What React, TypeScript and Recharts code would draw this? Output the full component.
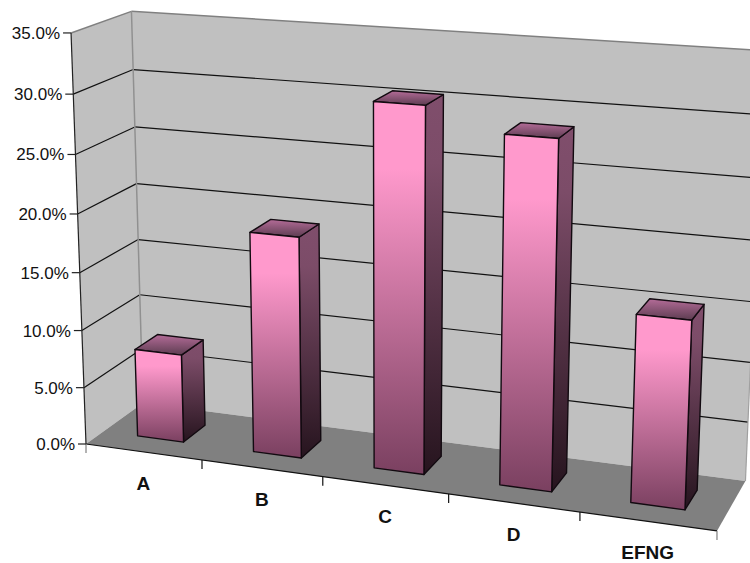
import { BarChart, Bar, XAxis, YAxis, Customized } from "recharts";

const W = 750;
const H = 563;
const AXIS_W = 40;
const AXIS_H = 40;
const PLOT_W = W - AXIS_W;
const PLOT_H = H - AXIS_H;

const categories = ["A", "B", "C", "D", "EFNG"];
const shares = [7.7, 18.9, 30.5, 28.7, 15.4];
const yTicks = [0, 5, 10, 15, 20, 25, 30, 35];
const yMax = 35;

const data = categories.map((name, i) => ({ name, share: shares[i] }));

// perspective camera fitted to the picture: u across, v up, w into the page (all 0..1)
const project = (u: number, v: number, w: number): [number, number] => {
  const d = 1 - 0.099 * u - 0.047 * v + 0.052 * w;
  return [
    (86 + 560 * u - 18.3 * v + 64.4 * w) / d,
    (444 + 34.4 * u - 412.6 * v - 20 * w) / d,
  ];
};

const pts = (list: [number, number][]) => list.map((p) => p.join(",")).join(" ");

const BAR_FRONT = 0.3;
const BAR_BACK = 0.7;

function Walls() {
  const seg = (a: [number, number], b: [number, number], color: string, width = 1.2, key?: string) => (
    <line key={key} x1={a[0]} y1={a[1]} x2={b[0]} y2={b[1]} stroke={color} strokeWidth={width} />
  );
  const ticksU = categories.map((_, i) => i / categories.length).concat(1);

  return (
    <g>
      <defs>
        <linearGradient id="front" x1="0" y1="0" x2="0" y2="1">
          <stop offset="0" stopColor="#ff99cc" />
          <stop offset="0.18" stopColor="#ff99cc" />
          <stop offset="1" stopColor="#7a4060" />
        </linearGradient>
        <linearGradient id="side" x1="0" y1="0" x2="0" y2="1">
          <stop offset="0" stopColor="#804e6c" />
          <stop offset="0.18" stopColor="#7c4c68" />
          <stop offset="1" stopColor="#26141e" />
        </linearGradient>
        <linearGradient id="top" x1="0" y1="0" x2="0" y2="1">
          <stop offset="0" stopColor="#b46c98" />
          <stop offset="1" stopColor="#5c3c50" />
        </linearGradient>
      </defs>

      <polygon points={pts([project(0, 0, 0), project(0, 0, 1), project(0, 1, 1), project(0, 1, 0)])} fill="#c0c0c0" />
      <polygon points={pts([project(0, 0, 1), project(1, 0, 1), project(1, 1, 1), project(0, 1, 1)])} fill="#c0c0c0" />
      <polygon points={pts([project(0, 0, 0), project(1, 0, 0), project(1, 0, 1), project(0, 0, 1)])} fill="#808080" />

      {yTicks
        .filter((t) => t > 0 && t < yMax)
        .map((t) => {
          const v = t / yMax;
          return (
            <g key={t}>
              {seg(project(0, v, 0), project(0, v, 1), "#111")}
              {seg(project(0, v, 1), project(1, v, 1), "#111")}
            </g>
          );
        })}

      {seg(project(0, 1, 0), project(0, 1, 1), "#808080", 1.5)}
      {seg(project(0, 1, 1), project(1, 1, 1), "#808080", 1.5)}
      {seg(project(0, 0, 1), project(0, 1, 1), "#909090", 1.5)}
      {seg(project(1, 0, 1), project(1, 1, 1), "#a0a0a0", 1.2)}
      {seg(project(0, 1, 0), project(0, 0, 0), "#222", 1.2)}
      {seg(project(0, 0, 0), project(1, 0, 0), "#111", 1.2)}

      {ticksU.map((u) => {
        const [x, y] = project(u, 0, 0);
        const edge = u === 0 || u === 1;
        return seg([x, y], [x, y + 9], edge ? "#808080" : "#111", 1.2, "t" + u);
      })}
    </g>
  );
}

function Box3D(props: any) {
  const { x, y, width, height } = props;
  const u0 = (x - AXIS_W) / PLOT_W;
  const u1 = (x + width - AXIS_W) / PLOT_W;
  const v = 1 - y / PLOT_H;
  const v0 = 1 - (y + height) / PLOT_H;
  const f = BAR_FRONT;
  const b = BAR_BACK;
  return (
    <g stroke="#120a10" strokeWidth={1.4} strokeLinejoin="round">
      <polygon fill="url(#side)" points={pts([project(u1, v, f), project(u1, v, b), project(u1, v0, b), project(u1, v0, f)])} />
      <polygon fill="url(#top)" points={pts([project(u0, v, f), project(u0, v, b), project(u1, v, b), project(u1, v, f)])} />
      <polygon fill="url(#front)" points={pts([project(u0, v, f), project(u1, v, f), project(u1, v0, f), project(u0, v0, f)])} />
    </g>
  );
}

function YTick(props: any) {
  const { y, payload } = props;
  const [px, py] = project(0, 1 - y / PLOT_H, 0);
  return (
    <g>
      <line x1={px - 8} y1={py} x2={px} y2={py} stroke="#222" strokeWidth={1.2} />
      <text x={px - 11} y={py + 6} textAnchor="end" fontFamily="'Liberation Sans', Arial, sans-serif" fontSize={17} fill="#111">
        {payload.value.toFixed(1)}%
      </text>
    </g>
  );
}

function XTick(props: any) {
  const { x, payload } = props;
  const [px, py] = project((x - AXIS_W) / PLOT_W, 0, 0);
  return (
    <text x={px} y={py + 38} textAnchor="middle" fontFamily="'Liberation Sans', Arial, sans-serif" fontWeight="bold" fontSize={19} fill="#111">
      {payload.value}
    </text>
  );
}

export default function App() {
  return (
    <div style={{ position: "absolute", left: 0, top: 0 }}>
      <BarChart width={W} height={H} data={data} barCategoryGap="30%" margin={{ top: 0, right: 0, bottom: 0, left: 0 }}>
        <Customized component={Walls} />
        <XAxis dataKey="name" height={AXIS_H} axisLine={false} tickLine={false} interval={0} tick={XTick} />
        <YAxis width={AXIS_W} domain={[0, yMax]} ticks={yTicks} axisLine={false} tickLine={false} interval={0} tick={YTick} />
        <Bar dataKey="share" isAnimationActive={false} shape={Box3D} />
      </BarChart>
    </div>
  );
}
